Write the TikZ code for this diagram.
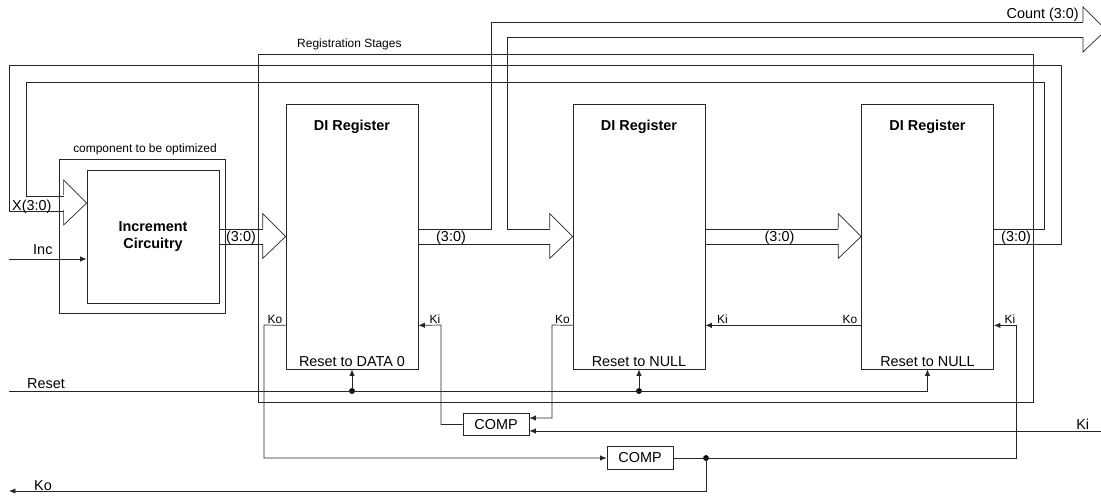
\documentclass[tikz,border=0pt]{standalone}
\usepackage{fontspec}
\setmainfont{Liberation Sans}
\usetikzlibrary{arrows.meta,positioning,calc}
\tikzset{
  wire/.style={
    draw=black!85,
    line width=0.6pt
  },
  sigarrow/.style={
    wire,
    -{Latex[length=5.5pt,width=4.5pt]}
  },
  regbox/.style={
    draw=black!85,
    line width=0.6pt,
    minimum width=3.96cm,
    minimum height=7.95cm,
    inner sep=0pt
  },
  incbox/.style={
    draw=black!85,
    line width=0.6pt,
    minimum width=3.96cm,
    minimum height=3.99cm,
    align=center,
    font=\fontsize{12.3}{14.5}\selectfont\bfseries
  },
  framebox/.style={
    draw=black!85,
    line width=0.6pt,
    inner sep=0pt
  },
  compbox/.style={
    draw=black!85,
    line width=0.6pt,
    minimum width=1.98cm,
    minimum height=0.68cm,
    inner sep=0pt,
    font=\fontsize{12.3}{14}\selectfont
  },
  biglabel/.style={
    inner sep=0pt,
    anchor=base,
    font=\fontsize{12.3}{14}\selectfont
  },
  smalllabel/.style={
    inner sep=0pt,
    anchor=base,
    font=\fontsize{10.2}{12}\selectfont
  },
  titlelabel/.style={
    inner sep=0pt,
    anchor=base,
    font=\fontsize{12.3}{14}\selectfont\bfseries
  },
  junction/.style={
    circle,
    fill=black,
    inner sep=0pt,
    minimum size=5pt
  },
  bushead/.pic={
    \draw[wire] (-23,-8) -- (-23,-23) -- (0,0) -- (-23,22) -- (-23,7);
  }
}

\begin{document}
\begin{tikzpicture}[x=0.03cm,y=-0.03cm]
  \useasboundingbox (0,0) rectangle (1101,495);

  % frames
  \node[framebox, minimum width=23.25cm, minimum height=10.44cm] (stages) at (645.5,228) {};
  \node[framebox, minimum width=4.98cm, minimum height=4.62cm] (optbox) at (142,236) {};
  \node[smalllabel, anchor=base west] (stageslbl) at (297,47) {Registration Stages};
  \node[smalllabel] (optlbl) at (145,152) {component to be optimized};

  % blocks
  \node[incbox] (inc) at (153,236.5) {Increment\\Circuitry};
  \node[regbox] (reg1) at (352,236.5) {};
  \node[regbox] (reg2) at (639,236.5) {};
  \node[regbox] (reg3) at (927.5,236.5) {};
  \node[titlelabel] (title1) at ($(reg1.north)+(0,27)$) {DI Register};
  \node[titlelabel] (title2) at ($(reg2.north)+(0,27)$) {DI Register};
  \node[titlelabel] (title3) at ($(reg3.north)+(0,27)$) {DI Register};
  \node[biglabel] (rst1) at ($(reg1.south)+(0,-3)$) {Reset to DATA 0};
  \node[biglabel] (rst2) at ($(reg2.south)+(0,-3)$) {Reset to NULL};
  \node[biglabel] (rst3) at ($(reg3.south)+(0,-3)$) {Reset to NULL};
  \node[compbox] (comp1) at (496,424.5) {COMP};
  \node[compbox] (comp2) at (640,458) {COMP};

  % bus points
  \coordinate (xtip) at ($(inc.west)+(0,-33.5)$);
  \coordinate (cnttip) at (1106,30);
  \coordinate (cntA) at (491,22);
  \coordinate (cntB) at (507,37);
  \coordinate (fbA) at (1044,82);
  \coordinate (fbB) at (1061,65);

  % buses
  \draw[wire] ($(inc.east)+(0,-7.5)$) -- ($(reg1.west)+(-23,-7.5)$);
  \draw[wire] ($(inc.east)+(0,7.5)$) -- ($(reg1.west)+(-23,7.5)$);
  \pic at (reg1.west) {bushead};
  \node[biglabel] (bus1) at (241,241) {(3:0)};

  \draw[wire] ($(reg1.east)+(0,-7.5)$) -| (cntA) -- ($(cnttip)+(-23,-8)$);
  \draw[wire] ($(reg2.west)+(-23,-7.5)$) -| (cntB) -- ($(cnttip)+(-23,7)$);
  \draw[wire] ($(reg1.east)+(0,7.5)$) -- ($(reg2.west)+(-23,7.5)$);
  \pic at (reg2.west) {bushead};
  \pic at (cnttip) {bushead};
  \node[biglabel] (bus2) at (451,241) {(3:0)};
  \node[biglabel, anchor=base east] (cntlbl) at (1079,18) {Count (3:0)};

  \draw[wire] ($(reg2.east)+(0,-7.5)$) -- ($(reg3.west)+(-23,-7.5)$);
  \draw[wire] ($(reg2.east)+(0,7.5)$) -- ($(reg3.west)+(-23,7.5)$);
  \pic at (reg3.west) {bushead};
  \node[biglabel] (bus3) at (779.5,241) {(3:0)};

  \draw[wire] ($(reg3.east)+(0,-7.5)$) -| (fbA) -- (26,82) |- ($(xtip)+(-23,-7)$);
  \draw[wire] ($(reg3.east)+(0,7.5)$) -| (fbB) -- (9,65) |- ($(xtip)+(-23,8)$);
  \pic at (xtip) {bushead};
  \node[biglabel] (bus4) at (1016,241) {(3:0)};
  \node[biglabel, anchor=base west] (xlbl) at (12,210) {X(3:0)};

  % increment input
  \coordinate (incin) at (9,259);
  \draw[sigarrow] (incin) -- (incin -| inc.west);
  \node[biglabel, anchor=base west] (inclbl) at (33,254) {Inc};

  % reset
  \coordinate (rstin) at (9,391);
  \node[junction] (dot1) at (rstin -| reg1.south) {};
  \node[junction] (dot2) at (rstin -| reg2.south) {};
  \draw[wire] (rstin) -- (rstin -| reg3.south);
  \draw[sigarrow] (rstin -| reg3.south) -- (reg3.south);
  \draw[sigarrow] (dot1) -- (reg1.south);
  \draw[sigarrow] (dot2) -- (reg2.south);
  \node[biglabel, anchor=base west] (rstlbl) at (27,388) {Reset};

  % handshake
  \coordinate (ko1) at ($(reg1.south west)+(0,-44)$);
  \coordinate (ki1) at ($(reg1.south east)+(0,-44)$);
  \coordinate (ko2) at ($(reg2.south west)+(0,-44)$);
  \coordinate (ki2) at ($(reg2.south east)+(0,-44)$);
  \coordinate (ko3) at ($(reg3.south west)+(0,-44)$);
  \coordinate (ki3) at ($(reg3.south east)+(0,-44)$);
  \coordinate (kiin) at (1101,431);
  \coordinate (koout) at (9,491);

  \draw[sigarrow] (ko1) -- (264,325) |- (comp2.west);
  \draw[sigarrow] (comp1.west) -| (441,325) -- (ki1);
  \draw[sigarrow] (ko2) -- (552,325) |- ($(comp1.east)+(0,-6.5)$);
  \draw[sigarrow] (kiin) -- ($(comp1.east)+(0,6.5)$);
  \draw[sigarrow] (ko3) -- (ki2);
  \node[junction] (dot3) at (706,458) {};
  \draw[sigarrow] (comp2.east) -- (1016,458) |- (ki3);
  \draw[sigarrow] (dot3) |- (koout);

  \node[smalllabel] (kol1) at (275,323) {Ko};
  \node[smalllabel] (kil1) at (435,323) {Ki};
  \node[smalllabel] (kol2) at (562.5,323) {Ko};
  \node[smalllabel] (kil2) at (722.5,323) {Ki};
  \node[smalllabel] (kol3) at (850,323) {Ko};
  \node[smalllabel] (kil3) at (1010,323) {Ki};
  \node[biglabel, anchor=base west] (kilbl) at (1076,429) {Ki};
  \node[biglabel, anchor=base west] (kolbl) at (34,490) {Ko};
\end{tikzpicture}
\end{document}
